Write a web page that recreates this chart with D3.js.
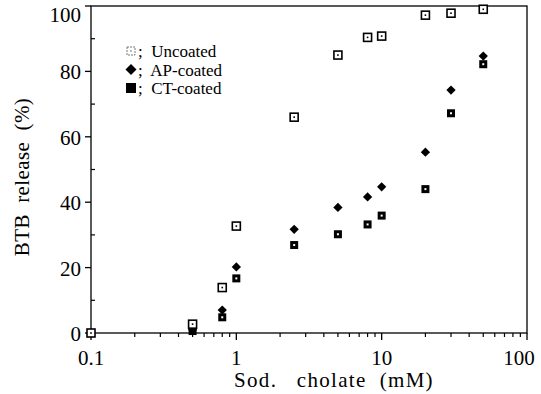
<!DOCTYPE html>
<html>
<head>
<meta charset="utf-8">
<script src="https://cdn.jsdelivr.net/npm/d3@7"></script>
<style>
  body { margin: 0; background: #fff; }
  svg text { font-family: "Liberation Serif", "DejaVu Serif", serif; fill: #000; }
</style>
</head>
<body>
<div id="chart"></div>
<script>
// cholate concentration (mM)
const conc = [0.1, 0.5, 0.8, 1, 2.5, 5, 8, 10, 20, 30, 50];
// BTB release (%)
const uncoated = [0, 2.7, 13.9, 32.7, 66, 85, 90.4, 90.8, 97.2, 97.8, 99];
const apCoated = [0, 1, 7, 20.2, 31.7, 38.4, 41.6, 44.7, 55.3, 74.3, 84.7];
const ctCoated = [0, 0.6, 4.8, 16.7, 26.9, 30.2, 33.2, 35.9, 44, 67.2, 82.2];
const xTicks = [0.1, 1, 10, 100];
const yTicks = [0, 20, 40, 60, 80, 100];

const W = 541, H = 394;
const M = {left: 91, right: 14, top: 6, bottom: 61};

const svg = d3.select("#chart").append("svg")
    .attr("width", W).attr("height", H);

const x = d3.scaleLog().domain([0.1, 100]).range([M.left, W - M.right]);
const y = d3.scaleLinear().domain([0, 100]).range([H - M.bottom, M.top]);

// frame
svg.append("rect")
   .attr("x", M.left).attr("y", M.top)
   .attr("width", W - M.right - M.left).attr("height", H - M.bottom - M.top)
   .attr("fill", "none").attr("stroke", "#000").attr("stroke-width", 1.3);

// x minor ticks
const minor = [];
for (let d = 0.1; d < 100; d *= 10) {
    for (let k = 2; k <= 9; k++) minor.push(d * k);
}
const xAxis = svg.append("g").attr("transform", "translate(0," + (H - M.bottom) + ")");
xAxis.selectAll("line.minor").data(minor).enter().append("line")
     .attr("x1", (d) => x(d)).attr("x2", (d) => x(d))
     .attr("y1", 0).attr("y2", 4)
     .attr("stroke", "#000").attr("stroke-width", 1.2);
xAxis.selectAll("line.major").data(xTicks).enter().append("line")
     .attr("x1", (d) => x(d)).attr("x2", (d) => x(d))
     .attr("y1", 0).attr("y2", 7)
     .attr("stroke", "#000").attr("stroke-width", 1.3);
xAxis.selectAll("text").data(xTicks).enter().append("text")
     .attr("x", (d) => Math.min(x(d), W - 22)).attr("y", 32)
     .attr("text-anchor", "middle")
     .style("font-size", "21px")
     .text((d) => String(d));

// y ticks
const yAxis = svg.append("g").attr("transform", "translate(" + M.left + ",0)");
yAxis.selectAll("line.major").data(yTicks).enter().append("line")
     .attr("x1", -6).attr("x2", 0)
     .attr("y1", (d) => y(d)).attr("y2", (d) => y(d))
     .attr("stroke", "#000").attr("stroke-width", 1.3);
yAxis.selectAll("line.minor").data([10, 30, 50, 70, 90]).enter().append("line")
     .attr("x1", 0).attr("x2", 4)
     .attr("y1", (d) => y(d)).attr("y2", (d) => y(d))
     .attr("stroke", "#000").attr("stroke-width", 1.2);
yAxis.selectAll("text").data(yTicks).enter().append("text")
     .attr("x", -10).attr("y", (d) => Math.max(y(d) + 8, 22))
     .attr("text-anchor", "end")
     .style("font-size", "21px")
     .text((d) => d);

// axis titles
svg.append("text")
   .attr("x", 334).attr("y", 387)
   .attr("text-anchor", "middle")
   .style("font-size", "21px")
   .style("letter-spacing", "1.3px")
   .attr("xml:space", "preserve")
   .text("Sod.   cholate  (mM)");
svg.append("text")
   .attr("transform", "translate(29,177) rotate(-90)")
   .attr("text-anchor", "middle")
   .style("font-size", "21px")
   .style("letter-spacing", "0.4px")
   .attr("xml:space", "preserve")
   .text("BTB  release  (%)");

// markers
var diamondPath = function(r) {
    return "M0," + (-r) + "L" + r + ",0L0," + r + "L" + (-r) + ",0Z";
};
const series = [
    {name: "Uncoated", vals: uncoated, kind: "open"},
    {name: "AP-coated", vals: apCoated, kind: "diamond"},
    {name: "CT-coated", vals: ctCoated, kind: "filled"},
];

var drawMark = function(g, kind, s) {
    if (kind === "diamond") {
        g.append("path").attr("d", diamondPath(s * 0.58)).attr("fill", "#000");
    } else if (kind === "open") {
        g.append("rect").attr("x", -s / 2).attr("y", -s / 2)
         .attr("width", s).attr("height", s)
         .attr("fill", "#fff").attr("stroke", "#000").attr("stroke-width", 1.6);
        g.append("rect").attr("x", -0.8).attr("y", -0.8).attr("width", 1.6).attr("height", 1.6)
         .attr("fill", "#000");
    } else {
        g.append("rect").attr("x", -s / 2).attr("y", -s / 2)
         .attr("width", s).attr("height", s)
         .attr("fill", "#000");
        g.append("rect").attr("x", -1).attr("y", -1).attr("width", 2).attr("height", 2)
         .attr("fill", "#fff");
    }
};

// draw filled series first, uncoated on top
[series[2], series[1], series[0]].forEach(function(s) {
    svg.append("g").selectAll("g")
       .data(conc.map((c, i) => ({c: c, v: s.vals[i]})))
       .enter().append("g")
       .attr("transform", (d) => "translate(" + x(d.c) + "," + y(d.v) + ")")
       .each(function() { drawMark(d3.select(this), s.kind, 8); });
});

// legend
const leg = svg.append("g").attr("transform", "translate(131,51)");
series.forEach(function(s, i) {
    const g = leg.append("g").attr("transform", "translate(0," + (i * 18.5) + ")");
    if (s.kind === "open") {
        g.append("rect").attr("x", -4).attr("y", -4).attr("width", 8).attr("height", 8)
         .attr("fill", "#fff").attr("stroke", "#777").attr("stroke-width", 1)
         .attr("stroke-dasharray", "2,1");
        g.append("rect").attr("x", -0.6).attr("y", -0.6).attr("width", 1.2).attr("height", 1.2)
         .attr("fill", "#444");
    } else if (s.kind === "diamond") {
        g.append("path").attr("d", diamondPath(5.5)).attr("fill", "#000");
    } else {
        g.append("rect").attr("x", -5).attr("y", -5).attr("width", 10).attr("height", 10)
         .attr("fill", "#000");
    }
    g.append("text").attr("x", 7).attr("y", 6)
     .style("font-size", "17px")
     .attr("xml:space", "preserve")
     .text(";  " + s.name);
});
</script>
</body>
</html>
